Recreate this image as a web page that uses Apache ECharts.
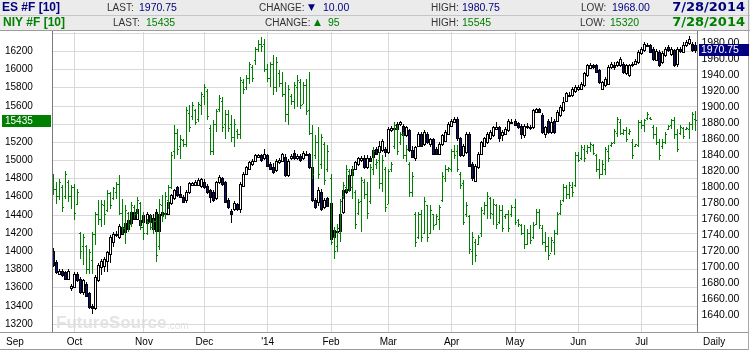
<!DOCTYPE html>
<html><head><meta charset="utf-8">
<script src="https://cdn.jsdelivr.net/npm/echarts@6/dist/echarts.min.js"></script>
<style>html,body{margin:0;padding:0;background:#fff}#c{width:750px;height:350px}</style>
</head><body><div id="c"></div>
<script>
// ---- Data ----
// NIY #F daily bars: [open, close, low, high]
const niyOHLC = [
[14800,14680,14615,14854],[14680,14600,14524,14762],[14600,14760,14560,14799],[14700,14480,14432,14725],[14600,14840,14579,14879],
[14760,14600,14542,14780],[14600,14700,14469,14725],[14700,14420,14340,14744],[14520,14650,14505,14689],[14200,14000,13919,14212],
[14050,14150,13845,14193],[14050,13800,13754,14065],[13800,13990,13754,14029],[13900,14180,13754,14212],[14180,14400,14065,14432],
[14400,14350,14285,14560],[14350,14520,14267,14560],[14500,14400,14285,14560],[14450,14640,14432,14670],[14640,14500,14469,14652],
[14580,14690,14560,14707],[14650,14740,14579,14762],[14740,14420,14395,14835],[14420,14250,14193,14579],[14250,14450,14083,14505],
[14420,14300,14212,14432],[14300,14500,14267,14542],[14480,14400,14359,14505],[14420,14560,14414,14597],[14530,14260,14230,14542],
[14260,14200,14120,14432],[14200,14320,14175,14359],[14320,14260,14230,14395],[14260,14330,14193,14359],[14330,13950,13882,14414],
[14050,14520,14010,14579],[14500,14380,14322,14615],[14400,14600,14359,14652],[14560,14700,14469,14725],[14700,15050,14689,15092],
[15100,15300,15019,15385],[15300,15120,15055,15349],[15150,15230,15019,15275],[15220,15180,15147,15239],[15180,15550,15147,15587],
[15520,15360,15312,15605],[15480,15600,15440,15642],[15550,15420,15385,15569],[15450,15620,15422,15642],[15600,15720,15495,15752],
[15700,15800,15605,15844],[15760,15480,15440,15789],[15350,15100,15055,15385],[15100,15400,15055,15440],[15400,15540,15312,15569],
[15560,15680,15532,15715],[15650,15360,15312,15697],[15400,15500,15239,15550],[15500,15350,15312,15550],[15400,15250,15202,15495],
[15250,15400,15147,15459],[15320,15280,15239,15349],[15280,15880,15239,15917],[15860,15780,15734,15899],[15800,15900,15770,15935],
[15900,16050,15844,16082],[16020,15900,15862,16045],[16100,16220,16045,16247],[16220,16280,16192,16320],[16280,16250,16192,16357],
[16280,16000,15972,16339],[16000,15900,15862,16064],[15900,16050,15807,16082],[16050,15800,15715,16155],[15800,16080,15752,16137],
[15960,15850,15807,15990],[15850,15720,15697,15972],[15720,15500,15422,15862],[15500,15780,15385,15825],[15700,15650,15605,15734],
[15650,15820,15569,15862],[15800,15880,15587,15935],[15860,15600,15569,15899],[15620,15820,15624,15862],[15820,15540,15495,15899],
[15550,15300,15275,15972],[15300,14850,14799,15385],[15050,15200,15019,15275],[15200,14850,14799,15367],[14950,15250,14909,15294],
[15180,14780,14725,15202],[14900,15100,14872,15165],[14800,14100,14065,14854],[14150,14000,13919,14267],[14050,14250,13992,14304],
[14200,14550,14102,14579],[14600,14720,14579,14762],[14700,14900,14652,14945],[14880,14700,14652,14909],[14700,14880,14579,14927],
[14650,14300,14248,14670],[14420,14540,14395,14579],[14550,14780,14212,14817],[14760,14620,14579,14799],[14620,14420,14359,14762],
[14550,14920,14524,14964],[14900,15100,14840,15150],[14950,14980,14909,15019],[15000,14750,14689,15092],[14750,15000,14652,15055],
[14900,14480,14432,14927],[14520,14880,14524,14909],[14900,14960,14872,14982],[15150,15380,15129,15422],[15350,15100,15055,15385],
[15200,15280,15165,15312],[15280,15050,15019,15312],[15050,15120,14982,15165],[14950,14650,14597,14982],[14650,14820,14597,14872],
[14400,14100,14047,14432],[14150,14400,14138,14432],[14400,14150,14102,14450],[14200,14550,14193,14597],[14500,14150,14102,14505],
[14200,14450,14193,14505],[14400,14280,14230,14414],[14300,14380,14285,14414],[14350,14480,14230,14505],[14560,14820,14542,14872],
[14800,14900,14762,14945],[14900,14910,14872,14927],[14900,15100,14872,15129],[15100,15050,15019,15165],[15100,14900,14872,15165],
[14850,14720,14689,14872],[14750,14320,14285,14780],[14400,14500,14377,14542],[14380,14020,13974,14395],[14000,14150,13845,14212],
[14100,13950,13882,14138],[14080,14150,14065,14175],[14200,14450,14157,14487],[14420,14500,14395,14542],[14500,14600,14359,14652],
[14580,14420,14359,14597],[14400,14520,14285,14579],[14500,14300,14248,14524],[14320,14450,14304,14505],[14450,14250,14212,14505],
[14380,14400,14359,14414],[14400,14250,14212,14450],[14400,14480,14377,14505],[14480,14320,14285,14579],[14340,14300,14267,14359],
[14280,14200,14175,14304],[14200,14080,14029,14285],[14080,14200,14065,14248],[14200,14120,14083,14285],[14150,14280,14138,14322],
[14300,14430,14285,14469],[14430,14280,14248,14469],[14250,14100,14065,14285],[14100,14050,13992,14212],[14050,13950,13900,14157],
[13980,14120,13992,14157],[14100,14200,13955,14230],[14200,14400,14175,14432],[14420,14520,14395,14560],[14560,14700,14542,14744],
[14700,14620,14579,14725],[14620,14720,14579,14762],[14700,14650,14597,14762],[14720,15050,14707,15092],[15050,15000,14982,15092],
[15020,15140,15000,15165],[15120,15020,14982,15165],[15100,15140,15074,15165],[15140,15180,15092,15202],[15160,15080,15055,15184],
[15050,14900,14872,15074],[14900,14850,14799,15019],[14850,14950,14835,15000],[14900,15120,14835,15147],[15100,15020,14982,15165],
[15160,15190,15147,15202],[15200,15320,15184,15349],[15300,15450,15257,15477],[15420,15300,15275,15459],[15300,15330,15275,15349],
[15330,15230,15202,15367],[15300,15320,15275,15349],[15200,15050,15019,15239],[15150,15170,15147,15184],[15160,15420,15147,15440],
[15420,15380,15349,15440],[15380,15440,15312,15459],[15460,15500,15440,15532],[15460,15450,15440,15477],[15360,15280,15239,15385],
[15280,15200,15165,15367],[15200,15050,15000,15239],[15150,15200,15129,15239],[15200,15290,15184,15312],[15340,15370,15330,15385],
[15380,15440,15349,15459],[15440,15280,15239,15477],[15280,15120,15092,15349],[15300,15360,15275,15385],[15350,15260,15239,15367],
[15340,15350,15330,15367],[15340,15400,15239,15422],[15400,15500,15330,15532],[15450,15435,15320,15545]
];
// ES #F daily candles: [open, close, low, high]
const esOHLC = [
[1721,1703,1700,1724],[1707,1694,1692,1709],[1692,1696,1690,1698],[1696,1690,1688,1698],[1694,1686,1684,1696],
[1686,1696,1684,1698],[1675,1677,1671,1680],[1676,1692,1674,1694],[1692,1684,1682,1694],[1686,1669,1667,1688],
[1669,1684,1666,1686],[1680,1665,1663,1682],[1668,1651,1648,1670],[1652,1649,1642,1655],[1649,1688,1647,1690],
[1684,1703,1682,1705],[1700,1708,1690,1710],[1702,1711,1694,1713],[1708,1719,1694,1721],[1717,1738,1705,1740],
[1732,1742,1725,1744],[1740,1742,1738,1745],[1738,1752,1736,1754],[1750,1742,1740,1752],[1744,1755,1742,1757],
[1748,1759,1746,1761],[1755,1769,1753,1771],[1769,1761,1759,1771],[1761,1773,1759,1788],[1759,1753,1751,1761],
[1757,1765,1755,1767],[1755,1767,1753,1769],[1765,1757,1755,1767],[1748,1762,1744,1767],[1769,1746,1744,1773],
[1746,1767,1744,1769],[1765,1769,1763,1771],[1768,1767,1764,1771],[1767,1782,1765,1790],[1780,1790,1778,1792],
[1786,1796,1784,1798],[1800,1790,1788,1802],[1792,1788,1786,1802],[1788,1782,1780,1790],[1784,1794,1781,1796],
[1794,1805,1792,1807],[1803,1805,1801,1807],[1803,1807,1801,1809],[1803,1809,1801,1811],[1801,1810,1799,1812],
[1807,1800,1798,1810],[1802,1794,1792,1804],[1796,1788,1780,1798],[1794,1784,1782,1796],[1786,1806,1784,1808],
[1806,1813,1804,1815],[1811,1804,1802,1813],[1806,1782,1780,1808],[1784,1775,1773,1786],[1771,1767,1755,1773],
[1773,1781,1771,1783],[1779,1773,1771,1781],[1773,1804,1768,1806],[1802,1817,1800,1819],[1817,1825,1815,1827],
[1823,1831,1821,1833],[1829,1833,1827,1835],[1833,1840,1831,1842],[1838,1840,1836,1842],[1840,1834,1832,1842],
[1836,1842,1834,1848],[1840,1827,1825,1842],[1829,1823,1821,1831],[1825,1819,1817,1830],[1821,1833,1819,1835],
[1831,1834,1829,1836],[1833,1841,1831,1843],[1838,1815,1813,1842],[1815,1833,1813,1835],[1836,1839,1834,1841],
[1843,1836,1834,1846],[1836,1839,1834,1841],[1839,1834,1832,1841],[1836,1843,1834,1845],[1842,1841,1839,1845],
[1841,1825,1823,1843],[1825,1784,1782,1827],[1784,1775,1773,1786],[1782,1796,1777,1800],[1794,1773,1771,1798],
[1775,1784,1773,1786],[1786,1777,1775,1788],[1780,1736,1734,1782],[1738,1747,1734,1749],[1746,1744,1740,1749],
[1746,1767,1744,1769],[1769,1796,1767,1798],[1794,1798,1792,1800],[1796,1815,1794,1819],[1815,1823,1813,1827],
[1823,1831,1821,1833],[1829,1836,1827,1838],[1834,1837,1832,1839],[1837,1825,1823,1840],[1825,1837,1823,1840],
[1837,1833,1831,1839],[1838,1846,1836,1848],[1848,1842,1840,1850],[1844,1852,1842,1858],[1846,1858,1844,1860],
[1848,1844,1838,1850],[1844,1873,1842,1875],[1871,1874,1869,1876],[1874,1873,1871,1876],[1873,1879,1869,1881],
[1879,1881,1877,1883],[1877,1865,1863,1879],[1865,1875,1863,1877],[1871,1846,1844,1873],[1846,1838,1836,1852],
[1836,1850,1833,1852],[1852,1867,1850,1869],[1867,1852,1850,1869],[1854,1869,1852,1871],[1867,1856,1854,1869],
[1854,1860,1850,1862],[1860,1842,1840,1862],[1848,1842,1840,1850],[1842,1854,1840,1856],[1854,1865,1852,1867],
[1858,1869,1856,1871],[1867,1879,1865,1881],[1877,1883,1875,1885],[1882,1885,1881,1888],[1885,1861,1858,1888],
[1861,1840,1838,1863],[1840,1852,1838,1854],[1844,1867,1842,1869],[1867,1827,1825,1869],[1829,1811,1808,1831],
[1808,1827,1806,1829],[1825,1842,1823,1844],[1842,1856,1840,1858],[1852,1861,1850,1863],[1856,1867,1854,1869],
[1861,1869,1859,1871],[1865,1875,1863,1877],[1873,1875,1871,1881],[1875,1861,1856,1877],[1865,1869,1858,1871],
[1867,1873,1865,1875],[1871,1883,1869,1885],[1881,1882,1879,1885],[1883,1878,1876,1885],[1880,1875,1873,1882],
[1877,1867,1860,1879],[1865,1877,1862,1879],[1877,1875,1873,1880],[1874,1875,1872,1878],[1875,1896,1873,1898],
[1894,1898,1892,1899],[1897,1894,1892,1899],[1890,1869,1866,1892],[1867,1875,1862,1877],[1883,1869,1866,1885],
[1869,1881,1866,1887],[1883,1869,1866,1885],[1883,1894,1881,1896],[1890,1900,1888,1902],[1896,1906,1894,1912],
[1908,1917,1906,1919],[1915,1914,1912,1919],[1915,1923,1913,1925],[1920,1925,1918,1927],[1923,1925,1920,1927],
[1923,1929,1921,1931],[1927,1942,1925,1944],[1940,1952,1938,1954],[1949,1953,1947,1955],[1952,1950,1948,1954],
[1952,1944,1942,1954],[1946,1931,1929,1948],[1923,1931,1921,1933],[1927,1935,1925,1937],[1929,1950,1927,1952],
[1950,1954,1948,1956],[1953,1950,1946,1956],[1952,1956,1950,1958],[1952,1960,1950,1962],[1954,1944,1941,1956],
[1942,1952,1940,1954],[1940,1952,1937,1954],[1952,1954,1950,1956],[1954,1958,1952,1960],[1956,1969,1954,1971],
[1967,1973,1965,1975],[1971,1979,1969,1981],[1978,1977,1975,1980],[1977,1969,1967,1979],[1973,1960,1958,1975],
[1959,1970,1957,1972],[1969,1952,1950,1971],[1956,1968,1954,1970],[1965,1973,1963,1975],[1975,1971,1969,1977],
[1966,1973,1964,1975],[1971,1952,1950,1973],[1954,1973,1950,1975],[1972,1970,1967,1975],[1969,1978,1967,1981],
[1977,1981,1975,1983],[1980,1985,1978,1988],[1979,1971,1969,1981],[1978,1971,1968,1981]
];
// Trading-day categories (weekdays Sep 20 2013 - Jul 28 2014 minus exchange holidays)
const holidays = ['2013-11-28','2013-12-25','2014-01-01','2014-01-20','2014-02-17','2014-04-18','2014-05-26','2014-07-04'];
const firstDay = '2013-09-20', lastDay = '2014-07-28';
const monthLabels = {'10':'Oct','11':'Nov','12':'Dec','01':"'14",'02':'Feb','03':'Mar','04':'Apr','05':'May','06':'Jun','07':'Jul'};
// header rows
const esHeader  = ['ES #F [10]', '1970.75', '10.00', '1980.75', '1968.00', '7/28/2014'];
const niyHeader = ['NIY #F [10]', '15435', '95', '15545', '15320', '7/28/2014'];
const esLast = 1970.75, niyLast = 15435;
const niyAxis = [13200, 16400, 200];
const esAxis = [1640, 1980, 20];

// ---- build categories ----
const dates = [];
for (let d = new Date(firstDay + 'T00:00:00Z'); d <= new Date(lastDay + 'T00:00:00Z'); d.setUTCDate(d.getUTCDate() + 1)) {
  const wd = d.getUTCDay(); const s = d.toISOString().slice(0, 10);
  if (wd !== 0 && wd !== 6 && holidays.indexOf(s) < 0) dates.push(s);
}
const monthStarts = [];
for (let i = 1; i < dates.length; i++) if (dates[i].slice(5, 7) !== dates[i - 1].slice(5, 7)) monthStarts.push(i);

const GREEN = '#008000', NAVY = '#000080', DOWN = '#10107a';
const FONT = '"Liberation Sans", Arial, sans-serif';

function renderOHLC(params, api) {
  const i = api.value(0), o = api.value(1), c = api.value(2), l = api.value(3), h = api.value(4);
  const pH = api.coord([i, h]), pL = api.coord([i, l]), pO = api.coord([i, o]), pC = api.coord([i, c]);
  const x = Math.round(pH[0] - 0.5);
  const yT = Math.round(pH[1]), yB = Math.round(pL[1]);
  return { type: 'group', children: [
    { type: 'rect', shape: { x: x, y: yT, width: 1, height: Math.max(1, yB - yT) }, style: { fill: GREEN } },
    { type: 'rect', shape: { x: x - 1, y: Math.round(pO[1] - 0.5), width: 1, height: 1 }, style: { fill: GREEN } },
    { type: 'rect', shape: { x: x + 1, y: Math.round(pC[1] - 0.5), width: 1, height: 1 }, style: { fill: GREEN } }
  ]};
}
function renderCandle(params, api) {
  const i = api.value(0), o = api.value(1), c = api.value(2), l = api.value(3), h = api.value(4);
  const pO = api.coord([i, o]), pC = api.coord([i, c]), pH = api.coord([i, h]), pL = api.coord([i, l]);
  const x = Math.round(pO[0] - 0.5);
  const top = Math.round(Math.min(pO[1], pC[1])), bot = Math.round(Math.max(pO[1], pC[1]));
  const yH = Math.round(pH[1]), yL = Math.round(pL[1]);
  const ch = [
    { type: 'rect', shape: { x: x, y: yH, width: 1, height: Math.max(1, yL - yH) }, style: { fill: '#000' } },
    { type: 'rect', shape: { x: x - 1, y: top, width: 3, height: Math.max(2, bot - top + 1) }, style: { fill: '#000' } }
  ];
  if (bot - top >= 2) ch.push({ type: 'rect', shape: { x: x, y: top + 1, width: 1, height: bot - top - 1 }, style: { fill: c >= o ? '#ffffff' : DOWN } });
  return { type: 'group', children: ch };
}
function renderVLine(params, api) {
  const i = api.value(0);
  const p0 = api.coord([i, 0]), p1 = api.coord([i, 1]);
  return { type: 'rect', shape: { x: Math.round(p0[0] - 0.5), y: Math.round(p1[1]), width: 1, height: Math.round(p0[1]) - Math.round(p1[1]) }, style: { fill: '#d9d9d9' } };
}

function txt(s, x, y, font, fill, align) {
  return { type: 'text', x: x, y: y, z: 100, silent: true,
    style: { text: s, font: font, fill: fill, align: align || 'left', verticalAlign: 'middle', textAlign: align || 'left', textVerticalAlign: 'middle' } };
}
function hline(x1, x2, y, color, z) { return { type: 'line', z: z || 50, silent: true, shape: { x1: x1, y1: y, x2: x2, y2: y }, style: { stroke: color, lineWidth: 1 } }; }
function vline(x, y1, y2, color, z) { return { type: 'line', z: z || 50, silent: true, shape: { x1: x, y1: y1, x2: x, y2: y2 }, style: { stroke: color, lineWidth: 1 } }; }

const LBL = '10px ' + FONT, VAL = '10.5px ' + FONT, SYM = 'bold 12px ' + FONT, DATE = 'bold 13px "DejaVu Sans", sans-serif';
const graphics = [
  { type: 'rect', z: 40, silent: true, shape: { x: 0, y: 0, width: 750, height: 15 }, style: { fill: '#ebebeb' } },
  { type: 'rect', z: 40, silent: true, shape: { x: 0, y: 16, width: 750, height: 14 }, style: { fill: '#ebebeb' } },
  hline(0, 750, 15.5, '#c6c6c6'), hline(0, 750, 30.5, '#9c9c9c'),
  txt(esHeader[0], 2, 8, SYM, NAVY), txt('LAST:', 107, 8, LBL, '#333'), txt(esHeader[1], 139, 8, VAL, NAVY),
  txt('CHANGE:', 259, 8, LBL, '#333'), txt('▼', 308, 8, '9px "DejaVu Sans"', NAVY), txt(esHeader[2], 323, 8, VAL, NAVY),
  txt('HIGH:', 431, 8, LBL, '#333'), txt(esHeader[3], 462, 8, VAL, NAVY),
  txt('LOW:', 581, 8, LBL, '#333'), txt(esHeader[4], 612, 8, VAL, NAVY),
  txt(esHeader[5], 745, 8, DATE, NAVY, 'right'),
  txt(niyHeader[0], 3, 23, SYM, GREEN), txt('LAST:', 113, 23, LBL, '#333'), txt(niyHeader[1], 146, 23, VAL, GREEN),
  txt('CHANGE:', 265, 23, LBL, '#333'), txt('▲', 314, 23, '9px "DejaVu Sans"', GREEN), txt(niyHeader[2], 328, 23, VAL, GREEN),
  txt('HIGH:', 431, 23, LBL, '#333'), txt(niyHeader[3], 462, 23, VAL, GREEN),
  txt('LOW:', 580, 23, LBL, '#333'), txt(niyHeader[4], 610, 23, VAL, GREEN),
  txt(niyHeader[5], 745, 23, DATE, GREEN, 'right'),
  // frame
  vline(52.5, 31, 332, '#7a7a7a'), vline(697.5, 31, 332, '#7a7a7a'),
  hline(0, 748, 332.5, '#9a9a9a'), hline(0, 748, 349.5, '#9a9a9a'), vline(748.5, 0, 350, '#a8a8a8'),
  txt('Sep', 6, 342, LBL, '#000'), txt('Daily', 703, 342, LBL, '#000'),
  // watermark
  { type: 'text', x: 56, y: 323, z: 1, silent: true, style: { text: 'FutureSource', font: 'bold 17px ' + FONT, fill: '#e3e3e3', verticalAlign: 'middle', textVerticalAlign: 'middle' } },
  { type: 'text', x: 167, y: 326, z: 1, silent: true, style: { text: '.com', font: '10px ' + FONT, fill: '#e3e3e3', verticalAlign: 'middle', textVerticalAlign: 'middle' } }
];

const chart = echarts.init(document.getElementById('c'), null, { renderer: 'canvas' });
const hiddenX = (g) => ({ type: 'category', gridIndex: g, data: dates, boundaryGap: true, show: false });
chart.setOption({
  animation: false,
  backgroundColor: '#fff',
  grid: [
    { left: 52, right: 52.5, top: 33.1, bottom: 26 },     // NIY
    { left: 52, right: 52.5, top: 42.9, bottom: 34.4 },   // ES
    { left: 52, right: 52.5, top: 32, bottom: 18 }        // frame
  ],
  xAxis: [hiddenX(0), hiddenX(1), {
    type: 'category', gridIndex: 2, data: dates, boundaryGap: true,
    axisLine: { show: false }, axisTick: { show: false }, splitLine: { show: false },
    axisLabel: { margin: 5, fontSize: 10, fontFamily: 'Liberation Sans', color: '#000',
      interval: function (idx) { return monthStarts.indexOf(idx) >= 0; },
      formatter: function (v) { return monthLabels[v.slice(5, 7)] || ''; } }
  }],
  yAxis: [
    { type: 'value', gridIndex: 0, position: 'left', min: niyAxis[0], max: niyAxis[1], interval: niyAxis[2],
      axisLine: { show: false }, axisTick: { show: false },
      splitLine: { lineStyle: { color: '#d9d9d9', width: 1 } },
      axisLabel: { align: 'left', margin: 47, fontSize: 10, fontFamily: 'Liberation Sans', color: '#000',
        formatter: function (v) { return v >= niyAxis[1] ? '' : String(v); } } },
    { type: 'value', gridIndex: 1, position: 'right', min: esAxis[0], max: esAxis[1], interval: esAxis[2],
      axisLine: { show: false }, axisTick: { show: false }, splitLine: { show: false },
      axisLabel: { align: 'left', margin: 4, fontSize: 10.5, fontFamily: 'Liberation Sans', color: '#000',
        formatter: function (v) { return v.toFixed(2); } } },
    { type: 'value', gridIndex: 2, min: 0, max: 1, show: false }
  ],
  series: [
    { type: 'custom', name: 'grid', xAxisIndex: 2, yAxisIndex: 2, z: 1, silent: true,
      data: monthStarts.map(i => [i]), encode: { x: 0 }, renderItem: renderVLine },
    { type: 'custom', name: 'ES #F', xAxisIndex: 1, yAxisIndex: 1, z: 3, silent: true, clip: false,
      data: esOHLC.map((d, i) => [i, d[0], d[1], d[2], d[3]]), encode: { x: 0, y: [1, 2, 3, 4] }, renderItem: renderCandle },
    { type: 'custom', name: 'NIY #F', xAxisIndex: 0, yAxisIndex: 0, z: 4, silent: true, clip: false,
      data: niyOHLC.map((d, i) => [i, d[0], d[1], d[2], d[3]]), encode: { x: 0, y: [1, 2, 3, 4] }, renderItem: renderOHLC }
  ],
  graphic: graphics
});
// last-value tags positioned through the axes
const yN = chart.convertToPixel({ yAxisIndex: 0 }, niyLast);
const yE = chart.convertToPixel({ yAxisIndex: 1 }, esLast);
chart.setOption({ graphic: graphics.concat([
  { type: 'rect', z: 90, silent: true, shape: { x: 2, y: Math.round(yN) - 6, width: 49, height: 12 }, style: { fill: GREEN } },
  txt(String(niyLast), 5, Math.round(yN), '10px ' + FONT, '#fff'),
  { type: 'rect', z: 90, silent: true, shape: { x: 699, y: Math.round(yE) - 6, width: 50, height: 12 }, style: { fill: NAVY } },
  txt(esLast.toFixed(2), 701, Math.round(yE), '10.5px ' + FONT, '#fff')
]) });
</script></body></html>
